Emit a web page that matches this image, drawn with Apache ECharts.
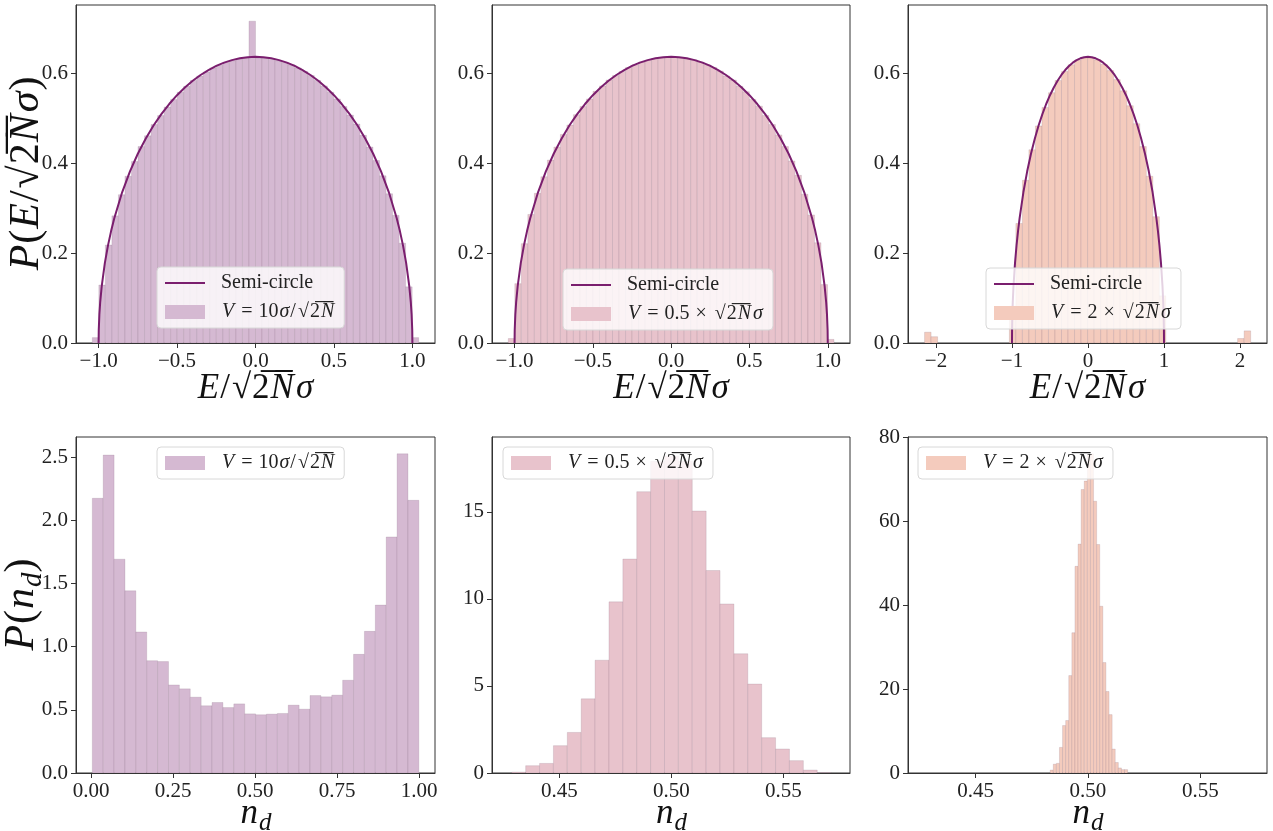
<!DOCTYPE html>
<html><head><meta charset="utf-8">
<script src="https://cdn.jsdelivr.net/npm/echarts@6/dist/echarts.min.js"></script>
<style>html,body{margin:0;padding:0;background:#fff}#c{width:1273px;height:831px}</style>
</head><body><div id="c"></div>
<script>
// ---------------- data ----------------
// semi-circle curve (theory)
const semiX = [-1, -0.999, -0.995, -0.99, -0.98, -0.96, -0.94, -0.92, -0.9, -0.85, -0.8, -0.75, -0.7, -0.65, -0.6, -0.55, -0.5, -0.45, -0.4, -0.35, -0.3, -0.25, -0.2, -0.15, -0.1, -0.05, 0,
  0.05, 0.1, 0.15, 0.2, 0.25, 0.3, 0.35, 0.4, 0.45, 0.5, 0.55, 0.6, 0.65, 0.7, 0.75, 0.8, 0.85, 0.9, 0.92, 0.94, 0.96, 0.98, 0.99, 0.995, 0.999, 1];
const semiY = [0, 0.0285, 0.0636, 0.0898, 0.1267, 0.1782, 0.2172, 0.2495, 0.2775, 0.3353, 0.382, 0.4211, 0.4546, 0.4838, 0.5093, 0.5317, 0.5513, 0.5685, 0.5834, 0.5963, 0.6073, 0.6164, 0.6237, 0.6294, 0.6334, 0.6358, 0.6366,
  0.6358, 0.6334, 0.6294, 0.6237, 0.6164, 0.6073, 0.5963, 0.5834, 0.5685, 0.5513, 0.5317, 0.5093, 0.4838, 0.4546, 0.4211, 0.382, 0.3353, 0.2775, 0.2495, 0.2172, 0.1782, 0.1267, 0.0898, 0.0636, 0.0285, 0];

// eigenvalue histograms (density), bins span [lo, hi]
const topLeftRange = [-1.04, 1.04];
const topLeftDensity = [0.012, 0.129, 0.218, 0.283, 0.330, 0.371, 0.404, 0.437, 0.461, 0.486, 0.506, 0.525, 0.542, 0.558, 0.571, 0.584, 0.594, 0.603, 0.612, 0.618, 0.624, 0.628, 0.632, 0.634, 0.716,
  0.634, 0.634, 0.631, 0.628, 0.624, 0.619, 0.612, 0.604, 0.595, 0.584, 0.572, 0.558, 0.543, 0.526, 0.507, 0.487, 0.462, 0.436, 0.406, 0.372, 0.332, 0.284, 0.222, 0.125, 0.012];
const topMidRange = [-1.04, 1.04];
const topMidDensity = [0.010, 0.132, 0.221, 0.286, 0.333, 0.370, 0.407, 0.436, 0.464, 0.485, 0.508, 0.526, 0.543, 0.560, 0.572, 0.585, 0.595, 0.604, 0.613, 0.619, 0.625, 0.629, 0.633, 0.635, 0.636,
  0.636, 0.635, 0.632, 0.630, 0.625, 0.619, 0.613, 0.605, 0.594, 0.585, 0.571, 0.559, 0.542, 0.527, 0.506, 0.486, 0.463, 0.437, 0.405, 0.373, 0.331, 0.285, 0.223, 0.130, 0.008];
const topRightRange = [-2.15, 2.14];
const topRightDensity = [0.024, 0.014, 0, 0, 0, 0, 0, 0, 0, 0, 0, 0, 0, 0.082, 0.266, 0.362, 0.430, 0.483, 0.524, 0.557, 0.584, 0.604, 0.619, 0.629, 0.634,
  0.634, 0.630, 0.620, 0.606, 0.586, 0.561, 0.528, 0.488, 0.437, 0.371, 0.281, 0.105, 0, 0, 0, 0, 0, 0, 0, 0, 0, 0, 0, 0.010, 0.027];

// n_d histograms (density)
const botLeftRange = [0.004, 0.9988];
const botLeftDensity = [2.174, 2.516, 1.692, 1.442, 1.116, 0.889, 0.882, 0.697, 0.666, 0.600, 0.532, 0.558, 0.518, 0.547, 0.468,
  0.461, 0.466, 0.471, 0.537, 0.505, 0.613, 0.603, 0.616, 0.734, 0.939, 1.121, 1.329, 1.868, 2.526, 2.158];
const botMidRange = [0.42873, 0.57127];
const botMidDensity = [0.05, 0.42, 0.55, 1.57, 2.33, 4.26, 6.48, 9.83, 12.29, 16.16, 17.9, 18.2, 17.9, 15.05, 11.63, 9.71, 6.85, 5.11, 2.03, 1.38, 0.71, 0.17, 0.02];
const botRightRange = [0.48319, 0.51766];
const botRightDensity = [0.7, 2.1, 2.3, 6.1, 11.3, 12.5, 23.2, 33.4, 49.2, 54.5, 67.5, 69.5, 75.8, 76.0, 64.7, 54.4, 39.7, 26.3, 19.4, 13.9, 5.7, 2.5, 1.2, 0.8, 0.8];

// tick values
const ticksE1 = [-1, -0.5, 0, 0.5, 1];
const ticksE2 = [-2, -1, 0, 1, 2];
const ticksPE = [0, 0.2, 0.4, 0.6];
const ticksNdL = [0, 0.25, 0.5, 0.75, 1];
const ticksNdR = [0.45, 0.5, 0.55];
const ticksPL = [0, 0.5, 1, 1.5, 2, 2.5];
const ticksPM = [0, 5, 10, 15];
const ticksPR = [0, 20, 40, 60, 80];

// ---------------- style ----------------
const FONT = '"Liberation Serif", "DejaVu Serif", serif';
const C1 = '#d5b9d2', C2 = '#e8c3cc', C3 = '#f4cbbd';
const LINEC = '#7a1e6e';
const AXC = '#333';

function bins(range, vals) {
  const n = vals.length, w = (range[1] - range[0]) / n;
  return vals.map((v, k) => [range[0] + k * w, range[0] + (k + 1) * w, v]);
}
function fmt(dec) {
  return v => Number(v).toFixed(dec).replace('-', '\u2212');
}
const mathRich = (fs) => ({
  i: { fontStyle: 'italic', fontFamily: FONT, fontSize: fs, padding: [0, 1, 0, 1] },
  r: { fontFamily: FONT, fontSize: fs },
  op: { fontFamily: FONT, fontSize: fs, padding: [0, Math.round(fs * 0.3)] },
  sq: { fontFamily: FONT, fontSize: fs, padding: [0, 1, 0, 2] },
  sub: { fontStyle: 'italic', fontFamily: FONT, fontSize: Math.round(fs * 0.7), padding: [Math.round(fs * 0.55), 0, 0, 0] },
  sp: { width: 11 }
});

const grids = [
  { left: 76, top: 5, width: 359, height: 338 },
  { left: 492, top: 5, width: 358, height: 338 },
  { left: 908, top: 5, width: 359, height: 338 },
  { left: 76, top: 437, width: 359, height: 336 },
  { left: 492, top: 437, width: 358, height: 336 },
  { left: 908, top: 437, width: 359, height: 336 }
].map(g => Object.assign({ show: true, borderColor: AXC, borderWidth: 1, backgroundColor: 'transparent', containLabel: false, outerBoundsMode: 'none' }, g));

const ENAME = '{i|E}/{sq|\u221A}2\u0305{i|N\u0305}{i|\u03C3}';
const NDNAME = '{i|n}{sub|d}';
function xAx(gi, min, max, ticks, dec, name, gap) {
  return {
    type: 'value', gridIndex: gi, min: min, max: max,
    axisLine: { show: true, onZero: false, lineStyle: { color: AXC, width: 1 } },
    axisTick: { show: true, customValues: ticks, length: 5, lineStyle: { color: AXC } },
    axisLabel: { customValues: ticks, formatter: fmt(dec), fontFamily: FONT, fontSize: 21, color: '#222', margin: 8 },
    splitLine: { show: false },
    name: name, nameLocation: 'middle', nameGap: gap, nameMoveOverlap: false,
    nameTextStyle: { fontFamily: FONT, fontSize: 35, color: '#111', rich: mathRich(35) }
  };
}
function yAx(gi, min, max, ticks, dec, name) {
  return {
    type: 'value', gridIndex: gi, min: min, max: max,
    axisLine: { show: true, onZero: false, lineStyle: { color: AXC, width: 1 } },
    axisTick: { show: true, customValues: ticks, length: 5, lineStyle: { color: AXC } },
    axisLabel: { customValues: ticks, formatter: fmt(dec), fontFamily: FONT, fontSize: 21, color: '#222', margin: 8 },
    splitLine: { show: false },
    name: name || '', nameLocation: 'middle', nameGap: 28, nameRotate: 90, nameMoveOverlap: false,
    nameTextStyle: { fontFamily: FONT, fontSize: 42, color: '#111', rich: mathRich(42) }
  };
}

const xAxes = [
  xAx(0, -1.144, 1.144, ticksE1, 1, ENAME, 28),
  xAx(1, -1.144, 1.142, ticksE1, 1, ENAME, 28),
  xAx(2, -2.368, 2.355, ticksE2, 0, ENAME, 28),
  xAx(3, -0.0457, 1.048, ticksNdL, 2, NDNAME, 19),
  xAx(4, 0.4199, 0.5797, ticksNdR, 2, NDNAME, 19),
  xAx(5, 0.4199, 0.5797, ticksNdR, 2, NDNAME, 19)
];
const yAxes = [
  yAx(0, 0, 0.752, ticksPE, 1, '{i|P}(' + ENAME + ')'),
  yAx(1, 0, 0.752, ticksPE, 1),
  yAx(2, 0, 0.752, ticksPE, 1),
  yAx(3, 0, 2.659, ticksPL, 1, '{i|P}(' + NDNAME + ')'),
  yAx(4, 0, 19.3, ticksPM, 0),
  yAx(5, 0, 80, ticksPR, 0)
];

function barSeries(name, gi, range, vals, color) {
  return {
    type: 'custom', name: name, xAxisIndex: gi, yAxisIndex: gi, clip: true, z: 2,
    itemStyle: { color: color },
    encode: { x: [0, 1], y: 2 },
    data: bins(range, vals),
    renderItem: function (params, api) {
      const v = api.value(2);
      if (!v) return null;
      const a = api.coord([api.value(0), v]);
      const b = api.coord([api.value(1), 0]);
      return {
        type: 'rect',
        shape: { x: a[0], y: a[1], width: b[0] - a[0], height: b[1] - a[1] },
        style: { fill: color, stroke: 'rgba(120,90,115,0.22)', lineWidth: 0.8 }
      };
    }
  };
}
function semiSeries(gi) {
  return {
    type: 'line', name: 'Semi-circle', xAxisIndex: gi, yAxisIndex: gi, z: 3,
    symbol: 'none', clip: true, silent: true,
    lineStyle: { color: LINEC, width: 2 }, itemStyle: { color: LINEC },
    data: semiX.map((x, i) => [x, semiY[i]])
  };
}

const LEG_TEXT = {
  'Semi-circle': '{sp|}Semi-circle',
  'V1': '{sp|}{i|V}{op|=}10{i|\u03C3}/{sq|\u221A}2\u0305{i|N\u0305}',
  'V2': '{sp|}{i|V}{op|=}0.5{op|\u00D7}{sq|\u221A}2\u0305{i|N\u0305}{i|\u03C3}',
  'V3': '{sp|}{i|V}{op|=}2{op|\u00D7}{sq|\u221A}2\u0305{i|N\u0305}{i|\u03C3}'
};
function legend(left, top, names) {
  return {
    left: left, top: top, orient: 'vertical',
    data: names.map(n => n === 'Semi-circle'
      ? { name: n, icon: 'path://M0,0h40v2h-40z', itemStyle: { color: LINEC } }
      : { name: n, icon: 'rect' }),
    itemWidth: 40, itemHeight: 14, itemGap: 9,
    padding: [6, 10, 6, 8],
    backgroundColor: 'rgba(255,255,255,0.8)', borderColor: '#d8d8d8', borderWidth: 1, borderRadius: 4,
    selectedMode: false,
    formatter: n => LEG_TEXT[n],
    textStyle: { fontFamily: FONT, fontSize: 20, color: '#222', rich: mathRich(20) }
  };
}

const option = {
  animation: false,
  backgroundColor: '#fff',
  grid: grids,
  xAxis: xAxes,
  yAxis: yAxes,
  legend: [
    legend(157, 267, ['Semi-circle', 'V1']),
    legend(563, 269, ['Semi-circle', 'V2']),
    legend(986, 268, ['Semi-circle', 'V3']),
    legend(157, 447, ['V1']),
    legend(503, 447, ['V2']),
    legend(918, 447, ['V3'])
  ],
  series: [
    barSeries('V1', 0, topLeftRange, topLeftDensity, C1), semiSeries(0),
    barSeries('V2', 1, topMidRange, topMidDensity, C2), semiSeries(1),
    barSeries('V3', 2, topRightRange, topRightDensity, C3), semiSeries(2),
    barSeries('V1', 3, botLeftRange, botLeftDensity, C1),
    barSeries('V2', 4, botMidRange, botMidDensity, C2),
    barSeries('V3', 5, botRightRange, botRightDensity, C3)
  ]
};
const chart = echarts.init(document.getElementById('c'), null, { renderer: 'canvas' });
chart.setOption(option);
</script></body></html>
